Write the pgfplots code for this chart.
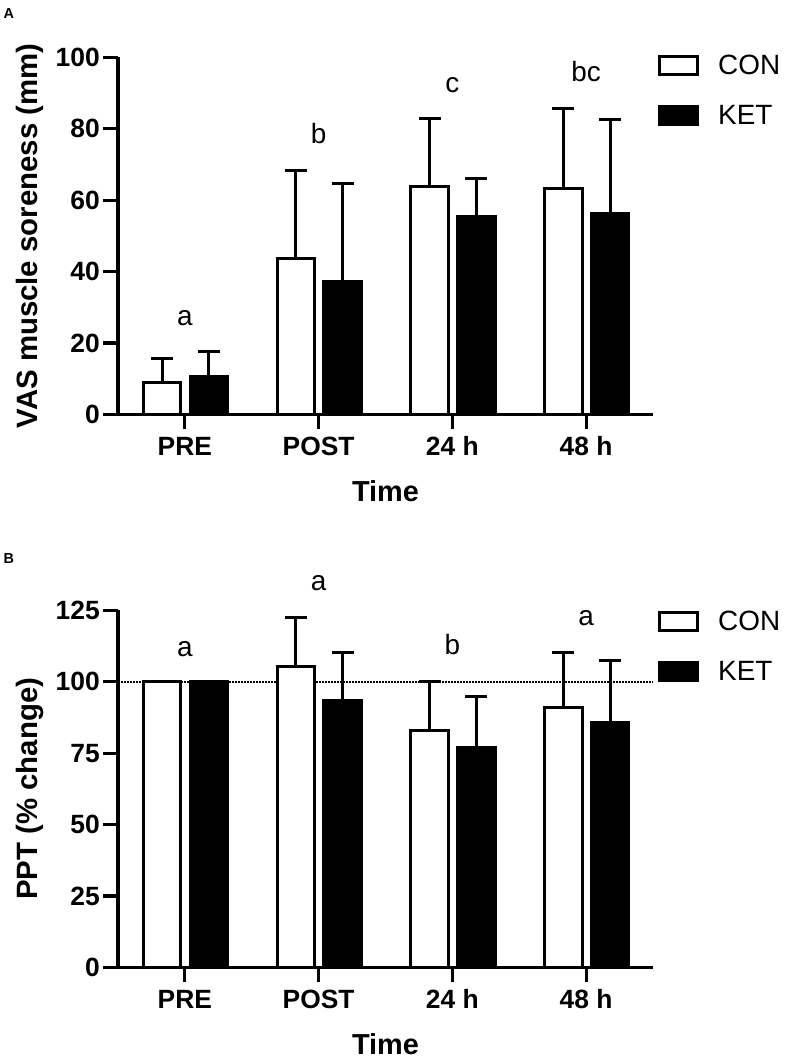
\documentclass[border=0pt]{standalone}
\usepackage{pgfplots}
\pgfplotsset{compat=1.18}
\usepackage{pgfplotstable}
\usepackage{fontspec}
\setmainfont{Liberation Sans}

\pgfplotstableread{
xcon con conerr xket ket keterr
-0.17 8.9 6.8 0.18 10.6 7.0
0.83 43.8 24.4 1.18 37.3 27.5
1.83 63.9 19.0 2.18 55.4 10.8
2.83 63.4 22.3 3.18 56.2 26.5
}\dataA
\pgfplotstableread{
xcon con conerr xket ket keterr
-0.17 100 0 0.18 100 0
0.83 105.5 17.1 1.18 93.3 16.9
1.83 83.0 16.9 2.18 77.0 17.9
2.83 91.0 19.3 3.18 85.7 21.8
}\dataB

\pgfplotsset{
  panel/.style={
    scale only axis, width=535bp, height=357bp,
    xmin=-0.5, xmax=3.5, ymin=0,
    axis x line*=bottom, axis y line*=left,
    axis line style={line width=3.2bp, black},
    tick style={line width=3.2bp, black},
    major tick length=15bp, tick align=outside,
    xtick={0,1,2,3}, xticklabels={PRE,POST,24 h,48 h},
    ticklabel style={font=\fontsize{26.5}{26.5}\selectfont\bfseries},
    /pgf/number format/assume math mode=true,
    xticklabel style={anchor=base, inner sep=0pt, yshift=-26.5bp},
    yticklabel style={anchor=east, inner sep=0pt, xshift=-3bp},
    xlabel={Time},
    xlabel style={at={([yshift=-87.5bp]axis description cs:0.5,0)}, anchor=base,
                  font=\fontsize{29}{29}\selectfont\bfseries, inner sep=0pt},
    ylabel style={at={([xshift=-80bp]axis description cs:0,0.5)}, anchor=base,
                  font=\fontsize{29.5}{29.5}\selectfont\bfseries, inner sep=0pt},
    clip=false,
    legend style={at={(rel axis cs:1,1)}, anchor=north west, draw=none, fill=none,
                  inner sep=0pt, xshift=5bp, row sep=25bp,
                  font=\fontsize{28}{28}\selectfont,
                  /tikz/every odd column/.append style={column sep=17bp}},
    legend cell align=left,
  },
  conbar/.style={ybar, bar width=0.28, bar shift=0, fill=white, draw=black, line width=3bp,
    legend image code/.code={\draw[draw=black, fill=white, line width=3bp] (0bp,-9bp) rectangle (38bp,9bp);},
    error bars/.cd, y dir=plus, y explicit,
    error bar style={line width=3bp, black},
    error mark options={rotate=90, black, line width=3bp, mark size=11bp}},
  ketbar/.style={ybar, bar width=0.28, bar shift=0, fill=black, draw=black, line width=3bp,
    legend image code/.code={\draw[draw=black, fill=black, line width=3bp] (0bp,-9bp) rectangle (38bp,9bp);},
    error bars/.cd, y dir=plus, y explicit,
    error bar style={line width=3bp, black},
    error mark options={rotate=90, black, line width=3bp, mark size=11bp}},
}

\begin{document}
\begin{tikzpicture}
\path[use as bounding box] (0,0) rectangle (785bp,-1064bp);

\node[anchor=base west, inner sep=0pt, font=\fontsize{14.5}{14.5}\selectfont\bfseries] at (3.5bp,-18.5bp) {A};
\node[anchor=base west, inner sep=0pt, font=\fontsize{14.5}{14.5}\selectfont\bfseries] at (3.5bp,-563.5bp) {B};

\begin{axis}[panel, at={(118bp,-414.4bp)}, anchor=south west,
  ymax=100, ytick={0,20,40,60,80,100},
  ylabel={VAS muscle soreness (mm)},
  legend style={yshift=4.5bp}]
\addplot[conbar] table[x=xcon, y=con, y error=conerr] {\dataA};
\addlegendentry{CON}
\addplot[ketbar] table[x=xket, y=ket, y error=keterr] {\dataA};
\addlegendentry{KET}
\node[anchor=base, font=\fontsize{28}{28}\selectfont] at (axis cs:0,24.8) {a};
\node[anchor=base, font=\fontsize{28}{28}\selectfont] at (axis cs:1,75.8) {b};
\node[anchor=base, font=\fontsize{28}{28}\selectfont] at (axis cs:2,90.2) {c};
\node[anchor=base, font=\fontsize{28}{28}\selectfont] at (axis cs:3,93.2) {bc};
\end{axis}

\begin{axis}[panel, at={(118bp,-967.3bp)}, anchor=south west,
  ymax=125, ytick={0,25,50,75,100,125},
  ylabel={PPT (\% change)},
  legend style={yshift=1bp}]
\addplot[black, line width=1.6bp, dash pattern=on 1.5bp off 1.5bp, forget plot] coordinates {(-0.5,100) (3.5,100)};
\addplot[conbar] table[x=xcon, y=con, y error=conerr] {\dataB};
\addlegendentry{CON}
\addplot[ketbar] table[x=xket, y=ket, y error=keterr] {\dataB};
\addlegendentry{KET}
\node[anchor=base, font=\fontsize{28}{28}\selectfont] at (axis cs:0,109.0) {a};
\node[anchor=base, font=\fontsize{28}{28}\selectfont] at (axis cs:1,132.1) {a};
\node[anchor=base, font=\fontsize{28}{28}\selectfont] at (axis cs:2,109.6) {b};
\node[anchor=base, font=\fontsize{28}{28}\selectfont] at (axis cs:3,119.7) {a};
\end{axis}
\end{tikzpicture}
\end{document}
